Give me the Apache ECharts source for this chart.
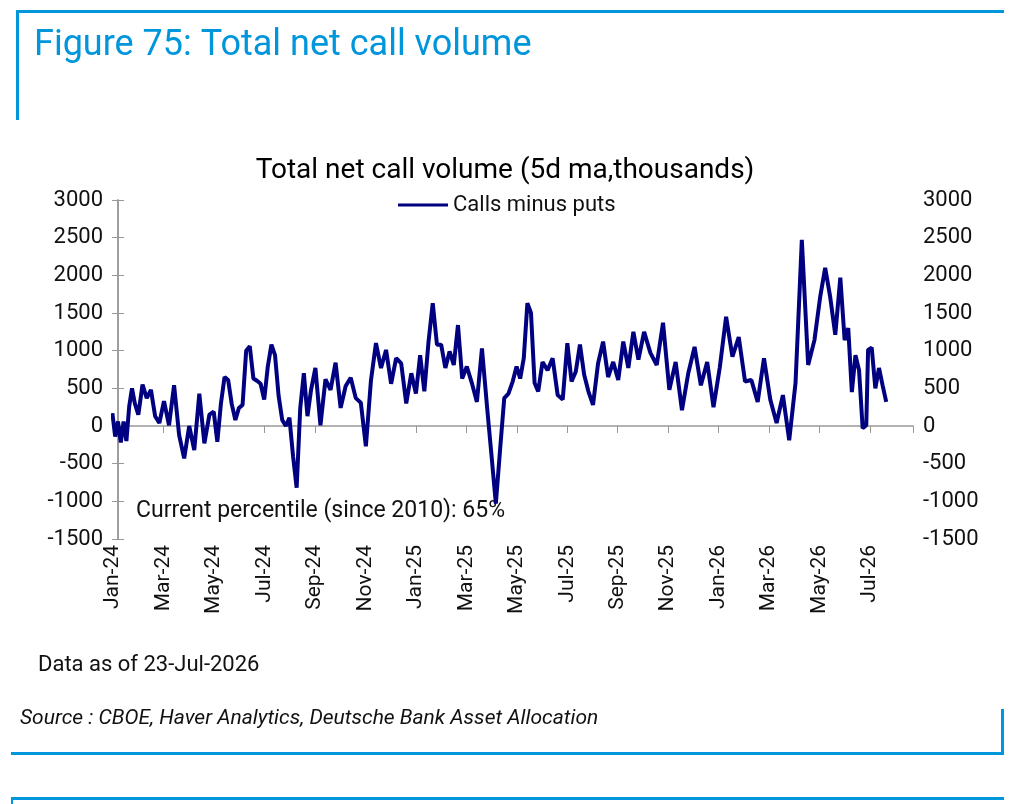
<!DOCTYPE html>
<html>
<head>
<meta charset="utf-8">
<script src="https://cdn.jsdelivr.net/npm/echarts@6/dist/echarts.min.js"></script>
<style>
  html, body { margin: 0; padding: 0; background: #fff; }
  #main { width: 1024px; height: 804px; }
</style>
</head>
<body>
<div id="main"></div>
<script>
// month labels from Jan-24, one per month
var monthLabels = ["Jan-24","Feb-24","Mar-24","Apr-24","May-24","Jun-24","Jul-24","Aug-24","Sep-24","Oct-24","Nov-24","Dec-24",
  "Jan-25","Feb-25","Mar-25","Apr-25","May-25","Jun-25","Jul-25","Aug-25","Sep-25","Oct-25","Nov-25","Dec-25",
  "Jan-26","Feb-26","Mar-26","Apr-26","May-26","Jun-26","Jul-26"];

// readings of the 5d ma line (thousands), grouped by month
var readings = [
  [170, -140, 60, -220, 60, -200, 260, 500, 300],
  [150, 550, 370, 480, 130, 40],
  [330, 10, 540, -120, -430],
  [0, -320, 430, -230, 150],
  [190, -210, 300, 650, 610, 290, 80],
  [240, 280, 1000, 1060, 630, 600, 560],
  [350, 790, 1080, 940, 400, 80, 0],
  [110, -400, -820, 240, 700, 130, 480],
  [770, 10, 620, 480, 840],
  [240, 530, 640, 370, 310],
  [-270, 600, 1100, 770, 1010],
  [560, 900, 830, 300, 700],
  [430, 940, 460, 1120, 1630, 1080],
  [1080, 770, 990, 810, 1340, 630],
  [790, 570, 320, 1030, 260],
  [-410, -1030, -320, 370, 430, 590],
  [790, 630, 900, 1630, 1500, 570, 460],
  [850, 740, 900, 410, 350],
  [1100, 590, 720, 1080, 680, 460],
  [280, 830, 1120, 650, 850],
  [610, 1120, 770, 1250, 880],
  [1250, 970, 810, 1370],
  [480, 850, 210, 700],
  [1050, 540, 850, 250],
  [780, 1450, 920, 1180],
  [590, 610, 320, 900],
  [350, 40, 410, -190],
  [570, 2470, 810, 1140],
  [1710, 2100, 1710, 1210, 1970],
  [1140, 1300, 450, 940, 740, -30, 10],
  [1010, 1040, 500, 770, 540, 320]
];
var lastMonthSpan = 0.72; // data runs to 23-Jul-2026
var monthShift = -0.28;   // readings were grouped from late-Dec

var yTicks = [-1500, 3000, 500];

// build points in month-index units
var points = [];
readings.forEach(function (vals, m) {
  var last = m === readings.length - 1;
  vals.forEach(function (v, i) {
    var f = last ? (i / (vals.length - 1)) * lastMonthSpan : (i + 0.5) / vals.length;
    points.push([m + f + monthShift, v]);
  });
});

var blue = "#0096db";
var grey = "#999";
var txt = "#111";
var font = "Roboto, sans-serif";

var chart = echarts.init(document.getElementById("main"));
var valueAxis = function (pos) {
  return {
    type: "value", position: pos, min: yTicks[0], max: yTicks[1], interval: yTicks[2],
    axisLine: { show: true, lineStyle: { color: grey, width: 1.5 } },
    axisTick: { show: true, length: 6, lineStyle: { color: grey } },
    splitLine: { show: false },
    axisLabel: { color: txt, fontSize: 22, fontFamily: font, margin: 10, formatter: function (v) { return String(v); } }
  };
};
chart.setOption({
  animation: false,
  title: {
    text: "Total net call volume (5d ma,thousands)", left: 500, top: 152, textAlign: "center",
    textStyle: { fontSize: 28, fontWeight: "normal", color: "#000", fontFamily: font }
  },
  legend: {
    top: 189, left: 393, itemWidth: 50, itemHeight: 3, icon: "rect",
    textStyle: { fontSize: 22, color: txt, fontFamily: font }
  },
  grid: { left: 113, right: 111, top: 200, bottom: 265 },
  xAxis: [
    {
      type: "value", min: -0.2, max: 31.5, interval: 2,
      axisLine: { onZero: true, lineStyle: { color: grey, width: 1.5 } },
      axisTick: { show: true, length: 7, lineStyle: { color: grey } },
      axisLabel: { show: false }, splitLine: { show: false }
    },
    {
      type: "value", min: -0.2, max: 31.5, interval: 2, position: "bottom",
      axisLine: { show: false, onZero: false }, axisTick: { show: false }, splitLine: { show: false },
      axisLabel: {
        rotate: 90, margin: 6, color: txt, fontSize: 21, fontFamily: font,
        formatter: function (v) { return monthLabels[Math.round(v)] || ""; }
      }
    }
  ],
  yAxis: [valueAxis("left"), valueAxis("right")],
  series: [{
    name: "Calls minus puts", type: "line", data: points, showSymbol: false, symbol: "none",
    lineStyle: { color: "#000080", width: 4 }, itemStyle: { color: "#000080" }
  }],
  graphic: [
    { type: "rect", shape: { x: 16, y: 10, width: 988, height: 3 }, style: { fill: blue } },
    { type: "rect", shape: { x: 16, y: 10, width: 3, height: 110 }, style: { fill: blue } },
    { type: "rect", shape: { x: 1001, y: 709, width: 3, height: 46 }, style: { fill: blue } },
    { type: "rect", shape: { x: 11, y: 752, width: 993, height: 3 }, style: { fill: blue } },
    { type: "rect", shape: { x: 11, y: 797, width: 993, height: 3 }, style: { fill: blue } },
    { type: "rect", shape: { x: 11, y: 797, width: 2, height: 7 }, style: { fill: blue } },
    { type: "text", left: 34, top: 28, style: { text: "Figure 75: Total net call volume", fontSize: 36, fill: blue, fontFamily: font } },
    { type: "text", left: 136, top: 500, style: { text: "Current percentile (since 2010): 65%", fontSize: 23, fill: txt, fontFamily: font } },
    { type: "text", left: 38, top: 654, style: { text: "Data as of 23-Jul-2026", fontSize: 22, fill: txt, fontFamily: font } },
    { type: "text", left: 20, top: 708, style: { text: "Source : CBOE, Haver Analytics, Deutsche Bank Asset Allocation", fontSize: 21, fontStyle: "italic", fill: txt, fontFamily: font } }
  ]
});
</script>
</body>
</html>
